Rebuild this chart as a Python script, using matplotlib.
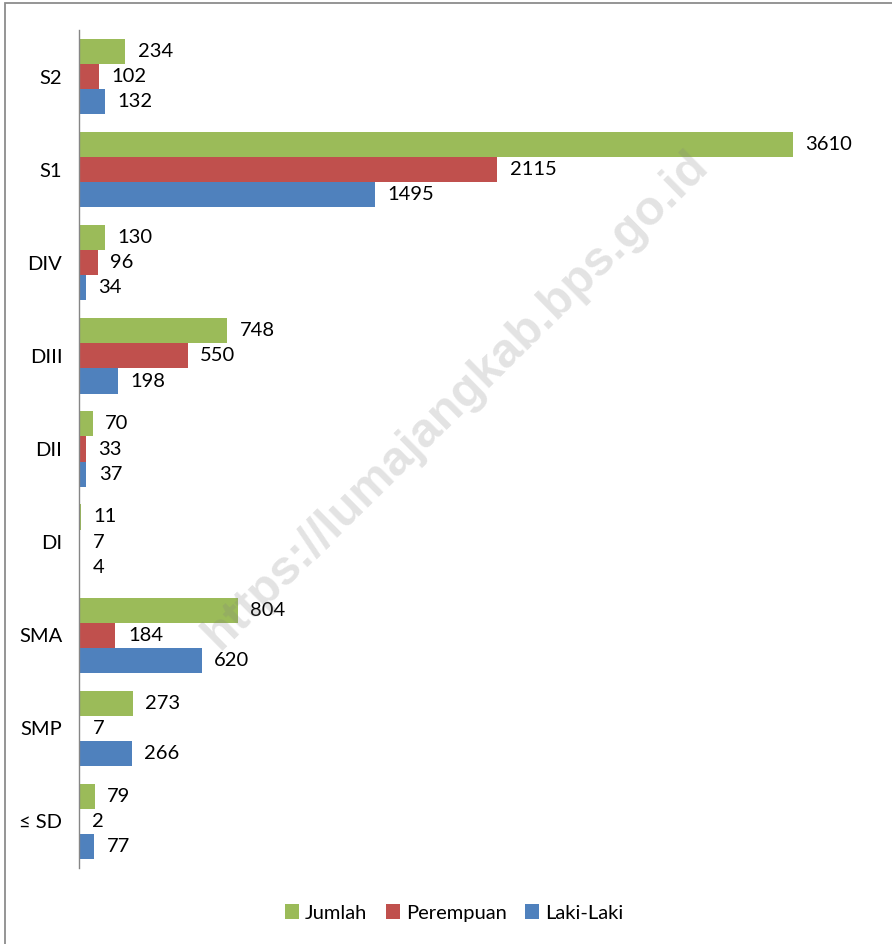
import numpy as np
import matplotlib.pyplot as plt
from matplotlib.patches import Rectangle

# data (bottom to top)
categories = ['≤ SD', 'SMP', 'SMA', 'DI', 'DII', 'DIII', 'DIV', 'S1', 'S2']
laki_laki = [77, 266, 620, 4, 37, 198, 34, 1495, 132]
perempuan = [2, 7, 184, 7, 33, 550, 96, 2115, 102]
jumlah = [79, 273, 804, 11, 70, 748, 130, 3610, 234]

green = '#9BBB59'
red = '#C0504D'
blue = '#4F81BD'

plt.rcParams['font.family'] = ['Lato', 'DejaVu Sans']
fs = 14.5

fig = plt.figure(figsize=(8.92, 9.44), dpi=100)
ax = fig.add_axes([79 / 892, 1 - 868 / 944, 791 / 892, 838 / 944])

y = np.arange(len(categories))
h = 0.27
b1 = ax.barh(y - h, laki_laki, height=h, color=blue, label='Laki-Laki', zorder=2)
b2 = ax.barh(y, perempuan, height=h, color=red, label='Perempuan', zorder=2)
b3 = ax.barh(y + h, jumlah, height=h, color=green, label='Jumlah', zorder=2)
for bars in (b1, b2, b3):
    ax.bar_label(bars, padding=9, fontsize=fs, color='black')

ax.set_xlim(0, 4000)
ax.set_ylim(-0.5, len(categories) - 0.5)
ax.set_yticks(y)
ax.set_yticklabels(categories, fontsize=fs)
ax.set_xticks([])
ax.tick_params(axis='y', length=0, pad=12)
for s in ['top', 'right', 'bottom']:
    ax.spines[s].set_visible(False)
ax.spines['left'].set_color('#868686')
ax.spines['left'].set_linewidth(1.0)

# legend order: Jumlah, Perempuan, Laki-Laki
handles = [b3, b2, b1]
fig.legend(handles, [hd.get_label() for hd in handles], loc='center',
           bbox_to_anchor=(454 / 892, 1 - 913 / 944), ncol=3, frameon=False,
           fontsize=fs, handlelength=0.7, handleheight=0.7,
           handletextpad=0.3, columnspacing=0.9)

# watermark
fig.text(456 / 892, 1 - 400 / 944, 'https://lumajangkab.bps.go.id',
         family='Liberation Sans', fontweight='bold', fontsize=35,
         color='gray', alpha=0.22, rotation=44.6, ha='center', va='center',
         zorder=5)

# outer frame
fig.patches.append(Rectangle((5 / 892, -0.1), 1.2, 1 - 3 / 944 + 0.1,
                             transform=fig.transFigure, fill=False,
                             edgecolor='#8c8c8c', linewidth=1.3))

fig.savefig('out.png', dpi=100)
